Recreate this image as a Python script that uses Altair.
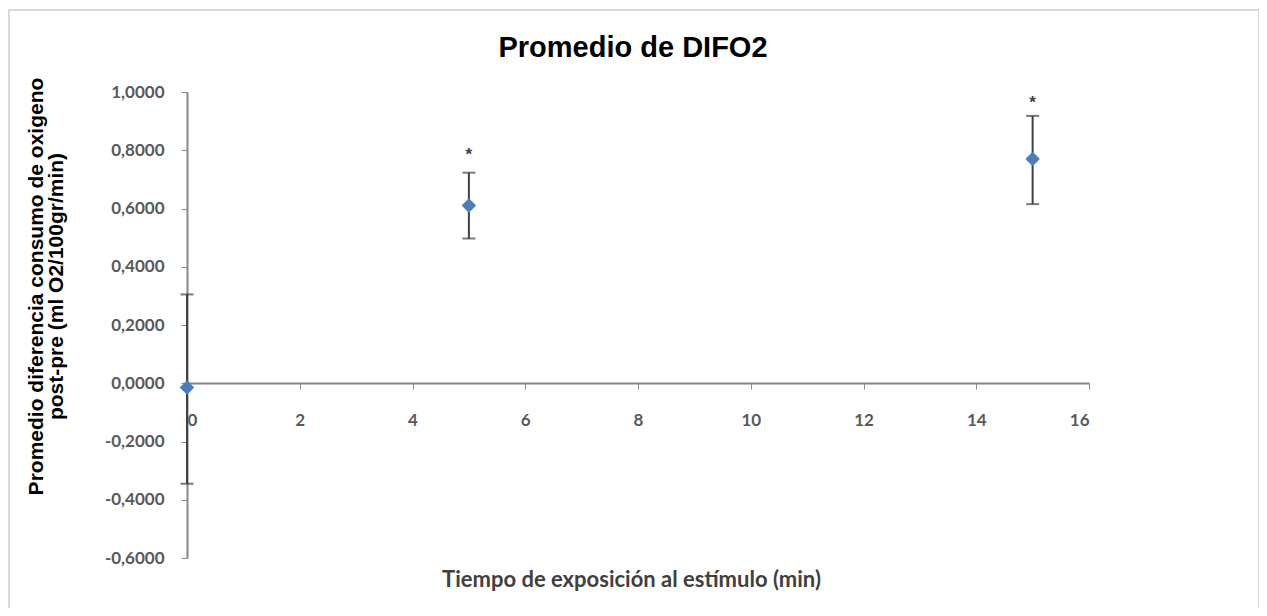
import altair as alt
import pandas as pd

# Data
tiempo = [0, 5, 15]
promedio = [-0.015, 0.61, 0.77]
error_inf = [-0.345, 0.497, 0.615]
error_sup = [0.305, 0.723, 0.918]

star_tiempo = [5, 15]
star_y = [0.785, 0.962]

x_ticks = [0, 2, 4, 6, 8, 10, 12, 14, 16]
y_ticks = [-0.6, -0.4, -0.2, 0.0, 0.2, 0.4, 0.6, 0.8, 1.0]

titulo = "Promedio de DIFO2"

df = pd.DataFrame({"t": tiempo, "m": promedio, "lo": error_inf, "hi": error_sup})
stars = pd.DataFrame({"t": star_tiempo, "y": star_y, "s": ["*", "*"]})

W, H = 902, 466
axis_font = "Lato"
label_color = "#595959"
axis_color = "#868686"

xscale = alt.Scale(domain=[0, 16], nice=False, zero=False)
yscale = alt.Scale(domain=[-0.6, 1.0], nice=False, zero=False)

x_axis = alt.Axis(
    values=x_ticks, format="d", grid=False, offset=-175, tickSize=6, tickColor=axis_color,
    domainColor=axis_color, domainWidth=2, labelFont=axis_font, labelFontSize=17,
    labelFontWeight="bold", labelColor=label_color, labelPadding=23,
    title="Tiempo de exposición al estímulo (min)", titleFont=axis_font,
    titleFontSize=22, titleFontWeight="bold", titleColor="#404040",
    titleY=196, titleX=444, titleBaseline="middle",
)
y_axis = alt.Axis(
    values=y_ticks, grid=False, tickSize=6, tickColor=axis_color,
    domainColor=axis_color, domainWidth=2, labelFont=axis_font, labelFontSize=17,
    labelFontWeight="bold", labelColor=label_color, labelPadding=17,
    labelExpr="replace(replace(format(datum.value, '.4f'), '.', ','), '\u2212', '-')",
    title=["Promedio diferencia consumo de oxigeno", "post-pre (ml O2/100gr/min)"],
    titleFont="Liberation Sans", titleFontSize=21, titleFontWeight="bold",
    titleColor="#000000", titleX=-162, titleY=194, titleBaseline="top",
    titleAngle=270, titleAlign="center", titleLineHeight=20,
)

base = alt.Chart(df)

rules = base.mark_rule(color="#404040", strokeWidth=2).encode(
    x=alt.X("t:Q", scale=xscale, axis=x_axis),
    y=alt.Y("lo:Q", scale=yscale, axis=y_axis),
    y2="hi:Q",
)
caps_lo = base.mark_tick(color="#404040", orient="horizontal", size=13, thickness=2).encode(
    x=alt.X("t:Q", scale=xscale), y=alt.Y("lo:Q", scale=yscale)
)
caps_hi = base.mark_tick(color="#404040", orient="horizontal", size=13, thickness=2).encode(
    x=alt.X("t:Q", scale=xscale), y=alt.Y("hi:Q", scale=yscale)
)
points = base.mark_point(shape="diamond", filled=True, size=210, color="#4a7ebb", opacity=1).encode(
    x=alt.X("t:Q", scale=xscale), y=alt.Y("m:Q", scale=yscale)
)
star_marks = alt.Chart(stars).mark_text(
    fontSize=17, font="Liberation Sans", fontWeight="bold", color="#404040", baseline="middle"
).encode(
    x=alt.X("t:Q", scale=xscale), y=alt.Y("y:Q", scale=yscale), text="s:N"
)

title_mark = alt.Chart(pd.DataFrame({"txt": [titulo]})).mark_text(
    font="Liberation Sans", fontSize=29, fontWeight="bold", color="#000000",
    align="center", baseline="alphabetic",
).encode(x=alt.value(W / 2 - 5), y=alt.value(-35), text="txt:N")

frame = alt.Chart(pd.DataFrame({"a": [0]})).mark_rect(
    fill=None, stroke="#d9d9d9", strokeWidth=2
).encode(
    x=alt.value(-178), x2=alt.value(1072), y=alt.value(-82), y2=alt.value(540)
)

chart = alt.layer(frame, title_mark, rules, caps_lo, caps_hi, points, star_marks).properties(
    width=W, height=H,
    autosize=alt.AutoSizeParams(type="none"),
    padding={"left": 179, "top": 84, "right": 170, "bottom": 50},
).configure(background="white").configure_view(stroke="transparent", strokeWidth=0)

chart.save("out.html", embed_options={"renderer": "svg", "actions": False})
